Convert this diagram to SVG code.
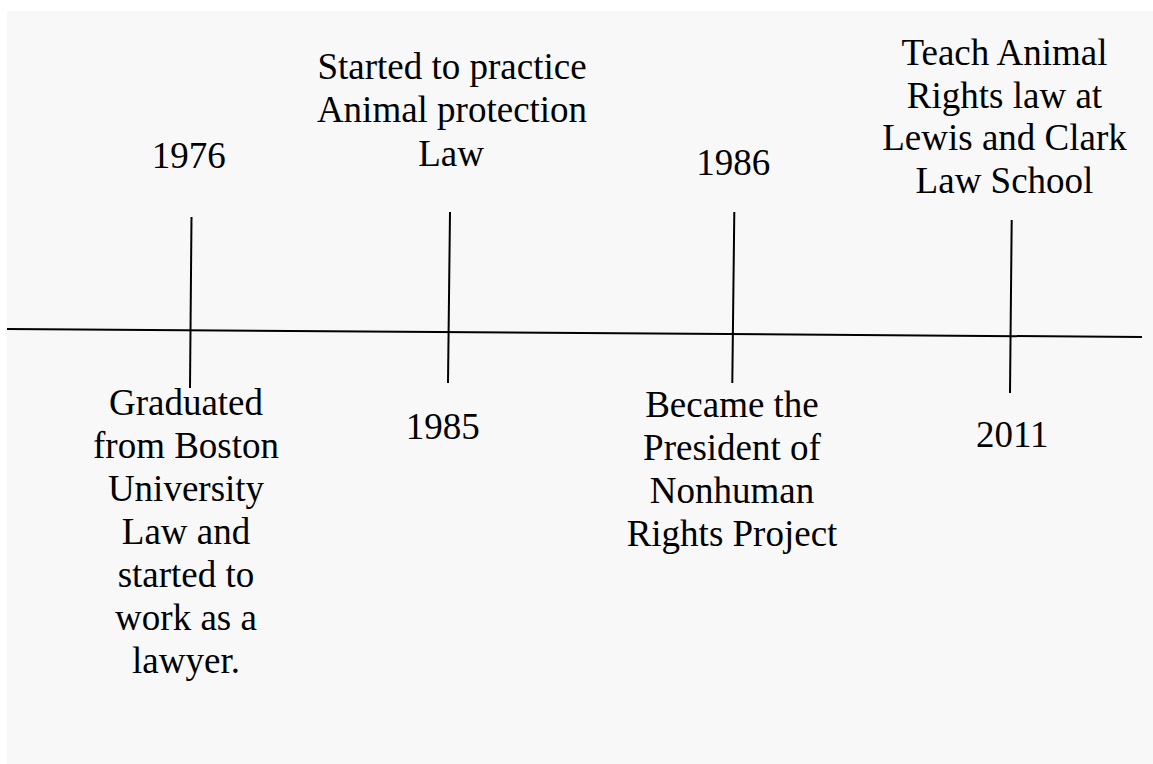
<svg xmlns="http://www.w3.org/2000/svg" width="1153" height="764" viewBox="0 0 1153 764">
<style>
  .t { font-family: 'Liberation Serif', 'DejaVu Serif', serif; font-size: 37px; fill: #000; text-anchor: middle; }
  .ln { stroke: #000; stroke-width: 2; fill: none; }
</style>
<rect x="0" y="0" width="1153" height="764" fill="#ffffff"/>
<rect x="7" y="11" width="1146" height="753" fill="#f8f8f8"/>
<g id="connectors">
  <line class="ln" x1="7" y1="329" x2="1142" y2="337"/>
  <line class="ln" x1="191.5" y1="217" x2="190" y2="388"/>
  <line class="ln" x1="450" y1="212" x2="448" y2="383"/>
  <line class="ln" x1="734.3" y1="212" x2="732.3" y2="383"/>
  <line class="ln" x1="1011.7" y1="220" x2="1010" y2="393"/>
</g>
<g id="y1976"><text class="t" x="188.7" y="168.3">1976</text></g>
<g id="e1976"><text class="t" x="186"><tspan x="186" y="415">Graduated</tspan><tspan x="186" y="458">from Boston</tspan><tspan x="186" y="501">University</tspan><tspan x="186" y="544">Law and</tspan><tspan x="186" y="587">started to</tspan><tspan x="186" y="630">work as a</tspan><tspan x="186" y="673">lawyer.</tspan></text></g>
<g id="e1985"><text class="t"><tspan x="452" y="79.3">Started to practice</tspan><tspan x="452" y="122">Animal protection</tspan><tspan x="451" y="165.5">Law</tspan></text></g>
<g id="y1985"><text class="t" x="442.8" y="439.3">1985</text></g>
<g id="y1986"><text class="t" x="733.3" y="175">1986</text></g>
<g id="e1986"><text class="t"><tspan x="732" y="417.3">Became the</tspan><tspan x="732" y="460">President of</tspan><tspan x="732" y="503.3">Nonhuman</tspan><tspan x="732" y="546">Rights Project</tspan></text></g>
<g id="e2011"><text class="t"><tspan x="1004.5" y="65">Teach Animal</tspan><tspan x="1004.5" y="107.5">Rights law at</tspan><tspan x="1004.5" y="150">Lewis and Clark</tspan><tspan x="1004.5" y="193.3">Law School</tspan></text></g>
<g id="y2011"><text class="t" x="1012.3" y="447.3">2011</text></g>
</svg>
